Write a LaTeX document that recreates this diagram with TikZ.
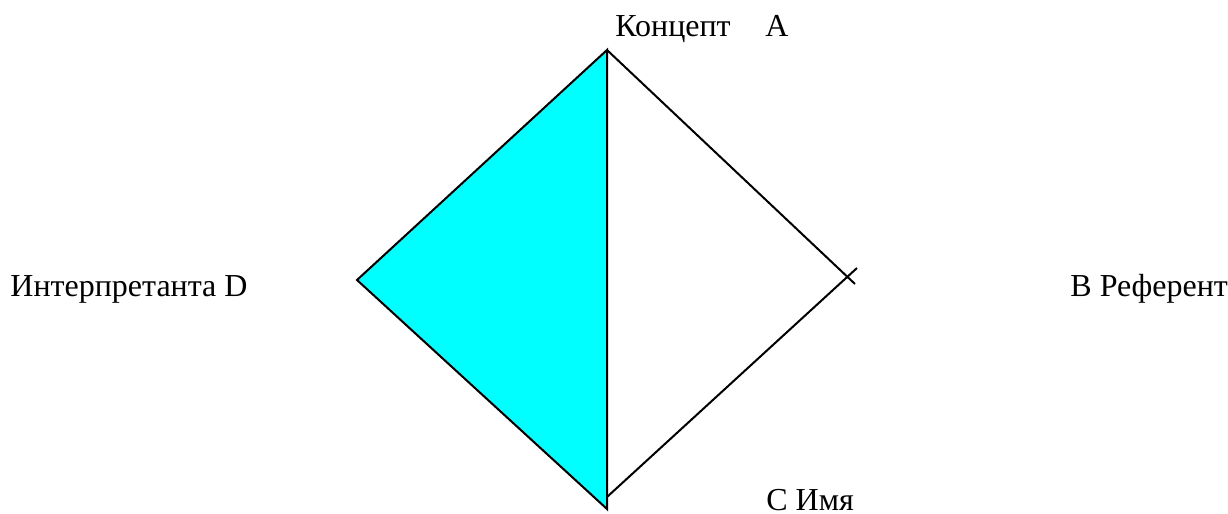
\documentclass[tikz,border=0pt]{standalone}
\usepackage{fontspec}
\setmainfont{Liberation Serif}
\definecolor{tricol}{HTML}{00FFFF}

\begin{document}
\begin{tikzpicture}[
  x=0.5pt, y=-0.5pt,
  lbl/.style={anchor=base west,inner sep=0pt,font=\fontsize{16}{19}\selectfont},
  edge/.style={line width=1pt},
]
\useasboundingbox (0,0) rectangle (1228,514);

% corners of the square
\coordinate (top)  at (607,50);
\coordinate (left) at (357,280);
\coordinate (bot)  at (607,509);
\coordinate (botr) at (607,497);
\coordinate (tr)   at (855,284);
\coordinate (br)   at (857,268);

\filldraw[edge,fill=tricol] (top) -- (left) -- (bot) -- cycle;
\draw[edge] (top) -- (tr);
\draw[edge] (botr) -- (br);

\node[lbl] (concept)  at (615,36)  {Концепт};
\node[lbl] (conA)     at (765,36)  {A};
\node[lbl] (interp)   at (10,296)  {Интерпретанта D};
\node[lbl] (referent) at (1070,296) {B Референт};
\node[lbl] (name)     at (766,510) {С Имя};
\end{tikzpicture}
\end{document}
